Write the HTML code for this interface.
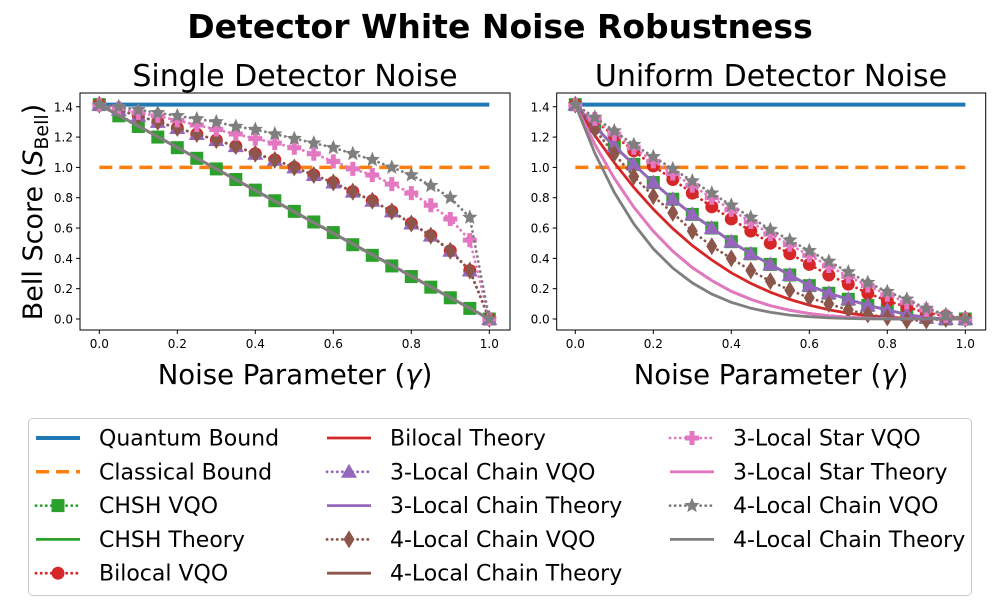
<!DOCTYPE html>
<html><head><meta charset="utf-8"><style>
body{margin:0;background:#fff;}
svg text{font-family:"DejaVu Sans","Liberation Sans",sans-serif;}
</style></head><body>
<svg id="c" width="1000" height="600" xmlns="http://www.w3.org/2000/svg">
<text x="500" y="38" text-anchor="middle" font-size="33" font-weight="bold">Detector White Noise Robustness</text>
<text x="295" y="86" text-anchor="middle" font-size="30">Single Detector Noise</text>
<text x="771" y="86" text-anchor="middle" font-size="30">Uniform Detector Noise</text>
<text transform="translate(42,212) rotate(-90)" text-anchor="middle" font-size="27">Bell Score (<tspan font-style="italic">S</tspan><tspan font-size="19" dy="6">Bell</tspan><tspan dy="-6">)</tspan></text>
<text x="295" y="384" text-anchor="middle" font-size="27.5">Noise Parameter (<tspan font-style="italic">γ</tspan>)</text>
<text x="771" y="384" text-anchor="middle" font-size="27.5">Noise Parameter (<tspan font-style="italic">γ</tspan>)</text>
<g id="plots"></g>
<g id="legend"></g>
</svg>
<script>
const gammas=[0,0.05,0.1,0.15,0.2,0.25,0.3,0.35,0.4,0.45,0.5,0.55,0.6,0.65,0.7,0.75,0.8,0.85,0.9,0.95,1];
const xTicks=[0,0.2,0.4,0.6,0.8,1.0];
const yTicks=[0,0.2,0.4,0.6,0.8,1.0,1.2,1.4];
const quantumBound=1.414, classicalBound=1.0;
// Single detector noise
const L_chshVQO=[1.414,1.34,1.27,1.20,1.13,1.06,0.99,0.92,0.85,0.78,0.71,0.64,0.57,0.49,0.42,0.35,0.28,0.21,0.14,0.07,0];
const L_theory=[1.414,1.343,1.273,1.202,1.131,1.061,0.990,0.919,0.848,0.778,0.707,0.636,0.566,0.495,0.424,0.354,0.283,0.212,0.141,0.071,0];
const L_multiVQO=[1.414,1.38,1.34,1.30,1.26,1.22,1.18,1.14,1.09,1.05,1.00,0.95,0.90,0.84,0.78,0.71,0.63,0.55,0.45,0.32,0];
const L_starVQO=[1.414,1.39,1.36,1.34,1.31,1.28,1.25,1.22,1.19,1.16,1.13,1.09,1.04,0.99,0.95,0.89,0.83,0.75,0.66,0.52,0];
const L_chain4VQO=[1.414,1.40,1.38,1.36,1.34,1.32,1.30,1.27,1.25,1.22,1.19,1.16,1.13,1.09,1.05,1.00,0.95,0.88,0.80,0.67,0];
// Uniform detector noise
const R_chshVQO=[1.414,1.27,1.14,1.02,0.90,0.79,0.69,0.60,0.51,0.43,0.36,0.29,0.22,0.17,0.13,0.09,0.06,0.03,0.01,0,0];
const R_bilocalVQO=[1.414,1.31,1.21,1.11,1.01,0.92,0.83,0.74,0.66,0.58,0.50,0.43,0.36,0.29,0.23,0.17,0.12,0.08,0.04,0.02,0];
const R_bilocalTh=[1.414,1.212,1.031,0.868,0.724,0.596,0.485,0.389,0.305,0.235,0.177,0.129,0.091,0.061,0.038,0.022,0.011,0.005,0.001,0,0];
const R_chain4VQO_b=[1.414,1.25,1.09,0.94,0.81,0.70,0.58,0.48,0.40,0.32,0.25,0.19,0.14,0.10,0.06,0.03,0.01,-0.01,-0.01,0,0];
const R_quartTh=[1.414,1.152,0.928,0.738,0.579,0.447,0.339,0.253,0.183,0.130,0.088,0.058,0.036,0.021,0.011,0.006,0.002,0.001,0,0,0];
const R_starVQO=[1.414,1.32,1.22,1.13,1.04,0.96,0.88,0.80,0.72,0.64,0.56,0.49,0.42,0.35,0.28,0.22,0.16,0.11,0.06,0.02,0];
const R_chain4VQO_g=[1.414,1.33,1.24,1.15,1.07,0.99,0.91,0.83,0.75,0.67,0.59,0.52,0.45,0.38,0.31,0.24,0.18,0.13,0.07,0.03,0];
const R_quintTh=[1.414,1.094,0.835,0.627,0.463,0.336,0.238,0.164,0.110,0.071,0.044,0.026,0.015,0.008,0.003,0.001,0,0,0,0,0];

const NS="http://www.w3.org/2000/svg";
const C={blue:"#1f77b4",orange:"#ff7f0e",green:"#2ca02c",red:"#d62728",purple:"#9467bd",brown:"#8c564b",pink:"#e377c2",gray:"#7f7f7f"};
function mk(t,a,p){const e=document.createElementNS(NS,t);for(const k in a)e.setAttribute(k,a[k]);p.appendChild(e);return e;}
function marker(g,m,x,y,col){let e;const s=6.5;
 if(m==='s')e=mk('rect',{x:x-s,y:y-s,width:2*s,height:2*s,fill:col},g);
 else if(m==='o')e=mk('circle',{cx:x,cy:y,r:s,fill:col},g);
 else if(m==='^')e=mk('polygon',{points:`${x},${y-8} ${x+8},${y+6} ${x-8},${y+6}`,fill:col},g);
 else if(m==='d')e=mk('polygon',{points:`${x},${y-9} ${x+5.5},${y} ${x},${y+9} ${x-5.5},${y}`,fill:col},g);
 else if(m==='P'){const a=2.5,b=7;e=mk('polygon',{points:`${x-a},${y-b} ${x+a},${y-b} ${x+a},${y-a} ${x+b},${y-a} ${x+b},${y+a} ${x+a},${y+a} ${x+a},${y+b} ${x-a},${y+b} ${x-a},${y+a} ${x-b},${y+a} ${x-b},${y-a} ${x-a},${y-a}`,fill:col},g);}
 else if(m==='*'){let p=[];for(let i=0;i<10;i++){const r=i%2?3.6:8,an=-Math.PI/2+i*Math.PI/5;p.push((x+r*Math.cos(an)).toFixed(1)+','+(y+r*Math.sin(an)).toFixed(1));}e=mk('polygon',{points:p.join(' '),fill:col},g);}
 
 
}
function panel(id,x0,x1,fl,fr,series){
 const yT=93,yB=330,y0=319,yk=151.6;
 const X=v=>x0+(x1-x0)*v, Y=v=>y0-v*yk;
 const g=mk('g',{},document.getElementById('plots'));
 
 
 mk('rect',{x:fl,y:yT,width:fr-fl,height:yB-yT,fill:'none',stroke:'#000','stroke-width':1},g);
 xTicks.forEach(t=>{mk('line',{x1:X(t),x2:X(t),y1:yB,y2:yB+4,stroke:'#000'},g);
  const tx=mk('text',{x:X(t),y:yB+18,'text-anchor':'middle','font-size':12},g);tx.textContent=t.toFixed(1);
  });
 yTicks.forEach(t=>{mk('line',{x1:fl-4,x2:fl,y1:Y(t),y2:Y(t),stroke:'#000'},g);
  const tx=mk('text',{x:fl-7,y:Y(t)+4.5,'text-anchor':'end','font-size':12},g);tx.textContent=t.toFixed(1);
  });
 const q=mk('line',{x1:X(0),x2:X(1),y1:Y(quantumBound),y2:Y(quantumBound),stroke:C.blue,'stroke-width':4},g);
 
 const cl=mk('line',{x1:X(0),x2:X(1),y1:Y(classicalBound),y2:Y(classicalBound),stroke:C.orange,'stroke-width':3.5,'stroke-dasharray':'13 7'},g);
 
 series.forEach(s=>{
  const pts=gammas.map((v,i)=>X(v).toFixed(1)+','+Y(s.d[i]).toFixed(1)).join(' ');
  const pl=mk('polyline',{points:pts,fill:'none',stroke:s.c,'stroke-width':2.8,'stroke-dasharray':s.m?'0.1 5':'none','stroke-linecap':'round'},g);
  
  if(s.m)gammas.forEach((v,i)=>marker(g,s.m,X(v),Y(s.d[i]),s.c));
 });
}
panel('left-panel',99.3,489.3,80,510,[
 {n:'chsh-vqo',c:C.green,m:'s',d:L_chshVQO},{n:'chsh-theory',c:C.green,d:L_theory},
 {n:'bilocal-vqo',c:C.red,m:'o',d:L_multiVQO},{n:'bilocal-theory',c:C.red,d:L_theory},
 {n:'3-local-chain-vqo',c:C.purple,m:'^',d:L_multiVQO},{n:'3-local-chain-theory',c:C.purple,d:L_theory},
 {n:'4-local-chain-vqo-brown',c:C.brown,m:'d',d:L_multiVQO},{n:'4-local-chain-theory-brown',c:C.brown,d:L_theory},
 {n:'3-local-star-vqo',c:C.pink,m:'P',d:L_starVQO},{n:'3-local-star-theory',c:C.pink,d:L_theory},
 {n:'4-local-chain-vqo-gray',c:C.gray,m:'*',d:L_chain4VQO},{n:'4-local-chain-theory-gray',c:C.gray,d:L_theory}]);
panel('right-panel',575.3,965.3,556.7,985.7,[
 {n:'chsh-vqo',c:C.green,m:'s',d:R_chshVQO},{n:'chsh-theory',c:C.green,d:R_chshVQO},
 {n:'bilocal-vqo',c:C.red,m:'o',d:R_bilocalVQO},{n:'bilocal-theory',c:C.red,d:R_bilocalTh},
 {n:'3-local-chain-vqo',c:C.purple,m:'^',d:R_chshVQO},{n:'3-local-chain-theory',c:C.purple,d:R_chshVQO},
 {n:'4-local-chain-vqo-brown',c:C.brown,m:'d',d:R_chain4VQO_b},{n:'4-local-chain-theory-brown',c:C.brown,d:R_quartTh},
 {n:'3-local-star-vqo',c:C.pink,m:'P',d:R_starVQO},{n:'3-local-star-theory',c:C.pink,d:R_quartTh},
 {n:'4-local-chain-vqo-gray',c:C.gray,m:'*',d:R_chain4VQO_g},{n:'4-local-chain-theory-gray',c:C.gray,d:R_quintTh}]);
// legend
const lg=document.getElementById('legend');
mk('rect',{x:28.5,y:418.5,width:943,height:177,rx:4,fill:'#fff',stroke:'#ccc'},lg);
const entries=[
 ['Quantum Bound',C.blue,null,'solid4'],['Classical Bound',C.orange,null,'dash'],['CHSH VQO',C.green,'s','dot'],['CHSH Theory',C.green,null,'solid'],['Bilocal VQO',C.red,'o','dot'],
 ['Bilocal Theory',C.red,null,'solid'],['3-Local Chain VQO',C.purple,'^','dot'],['3-Local Chain Theory',C.purple,null,'solid'],['4-Local Chain VQO',C.brown,'d','dot'],['4-Local Chain Theory',C.brown,null,'solid'],
 ['3-Local Star VQO',C.pink,'P','dot'],['3-Local Star Theory',C.pink,null,'solid'],['4-Local Chain VQO',C.gray,'*','dot'],['4-Local Chain Theory',C.gray,null,'solid']];
const colX=[36,327,670];
entries.forEach((e,i)=>{
 const col=Math.floor(i/5),row=i%5,hx=colX[col],y=438+row*33.8;
 const g=mk('g',{},lg);
 
 
 const at={x1:hx,x2:hx+44,y1:y,y2:y,stroke:e[1],'stroke-width':e[3]==='solid4'?4:(e[3]==='dash'?3.5:2.8)};
 if(e[3]==='dash')at['stroke-dasharray']='13 7';
 if(e[3]==='dot'){at['stroke-dasharray']='0.1 5';at['stroke-linecap']='round';}
 mk('line',at,g);
 if(e[2])marker(g,e[2],hx+22,y,e[1]);
 const t=mk('text',{x:hx+63,y:y+7.5,'font-size':22},g);t.textContent=e[0];
});
</script>
</body></html>
